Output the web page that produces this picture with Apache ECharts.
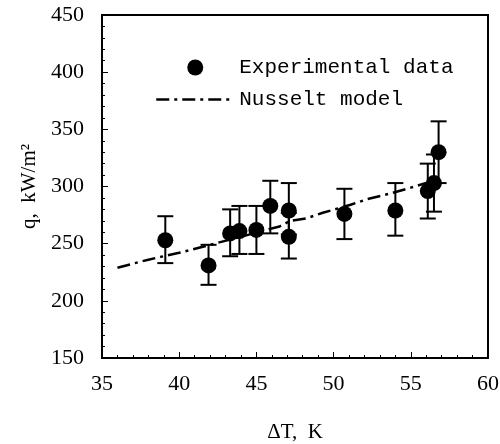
<!DOCTYPE html>
<html><head><meta charset="utf-8">
<script src="https://cdn.jsdelivr.net/npm/echarts@6/dist/echarts.min.js"></script>
<style>html,body{margin:0;padding:0;background:#fff}#c{width:500px;height:444px}</style>
</head><body><div id="c"></div>
<script>
// Experimental data (ΔT in K, q in kW/m2) with error bar limits
const expDT   = [39.1, 41.9, 43.3, 43.9, 45.0, 45.9, 47.1, 47.1, 50.7, 54.0, 56.8, 56.5, 56.1];
const expQ    = [253,  231,  259,  261,  262,  283,  279,  256,  276,  279,  330,  303,  296];
const expLow  = [233,  214,  239,  241,  241,  259,  258,  237,  254,  257,  303,  278,  272];
const expHigh = [274,  249,  280,  283,  283,  305,  303,  277,  298,  303,  357,  328,  320];
// Nusselt model curve
const modelDT = [36, 38, 40, 42, 44, 45.6, 46.5, 47.2, 48.2, 49.3, 51.1, 52.2, 53.7, 55, 56, 57];
const modelQ  = [229, 236, 242, 249, 256, 262, 265, 270, 272, 277, 284, 289, 294, 299, 303, 306];
// Axis ranges
const xMin = 35, xMax = 60, xStep = 5;
const yMin = 150, yMax = 450, yStep = 50;
const seriesNames = ['Experimental data', 'Nusselt model'];

const chart = echarts.init(document.getElementById('c'), null, {renderer: 'canvas'});
const axisCommon = {
  type: 'value',
  axisLine: {show: true, onZero: false, lineStyle: {color: '#000', width: 2}},
  axisTick: {show: true, inside: true, length: 6, lineStyle: {color: '#000', width: 1}},
  minorTick: {show: true, splitNumber: 5, length: 3, lineStyle: {color: '#000', width: 1}},
  splitLine: {show: false},
  minorSplitLine: {show: false},
  axisLabel: {color: '#000', fontFamily: 'Liberation Serif', fontSize: 22}
};
chart.setOption({
  animation: false,
  backgroundColor: '#fff',
  grid: {left: 102, right: 12, top: 15, bottom: 86, show: true, borderColor: '#000', borderWidth: 2,
         containLabel: false, outerBoundsMode: 'none'},
  legend: {
    orient: 'vertical', left: 150, top: 52, itemWidth: 78, itemHeight: 16, itemGap: 11,
    data: [
      {name: seriesNames[0], icon: 'circle', itemStyle: {color: '#000', opacity: 1}},
      {name: seriesNames[1], itemStyle: {opacity: 0}, lineStyle: {color: '#000', width: 2.5, type: [13, 5, 3, 5]}}
    ],
    textStyle: {fontFamily: 'Liberation Mono', fontSize: 21, color: '#000'}
  },
  xAxis: Object.assign({}, axisCommon, {
    min: xMin, max: xMax, interval: xStep,
    axisLabel: Object.assign({}, axisCommon.axisLabel, {margin: 15}),
    name: 'ΔT,  K', nameLocation: 'middle', nameGap: 64,
    nameTextStyle: {color: '#000', fontFamily: 'Liberation Serif', fontSize: 21}
  }),
  yAxis: Object.assign({}, axisCommon, {
    min: yMin, max: yMax, interval: yStep,
    axisLabel: Object.assign({}, axisCommon.axisLabel, {margin: 18}),
    name: 'q,  kW/m²', nameLocation: 'middle', nameGap: 60,
    nameTextStyle: {color: '#000', fontFamily: 'Liberation Serif', fontSize: 21}
  }),
  series: [
    {
      name: 'errorbars', type: 'custom', z: 2,
      data: expDT.map((x, i) => [x, expLow[i], expHigh[i]]),
      renderItem: function (params, api) {
        const lo = api.coord([api.value(0), api.value(1)]);
        const hi = api.coord([api.value(0), api.value(2)]);
        const hw = 8;
        const st = {stroke: '#000', lineWidth: 2};
        return {type: 'group', children: [
          {type: 'line', shape: {x1: lo[0], y1: lo[1], x2: hi[0], y2: hi[1]}, style: st},
          {type: 'line', shape: {x1: lo[0] - hw, y1: lo[1], x2: lo[0] + hw, y2: lo[1]}, style: st},
          {type: 'line', shape: {x1: hi[0] - hw, y1: hi[1], x2: hi[0] + hw, y2: hi[1]}, style: st}
        ]};
      }
    },
    {
      name: seriesNames[1], type: 'line', z: 3, symbol: 'none', showSymbol: false,
      data: modelDT.map((x, i) => [x, modelQ[i]]),
      lineStyle: {color: '#000', width: 2.5, type: [13, 5, 3, 5]},
      itemStyle: {color: '#000'}
    },
    {
      name: seriesNames[0], type: 'scatter', z: 4, symbol: 'circle', symbolSize: 16,
      data: expDT.map((x, i) => [x, expQ[i]]),
      itemStyle: {color: '#000', opacity: 1}
    }
  ]
});
</script>
</body></html>
